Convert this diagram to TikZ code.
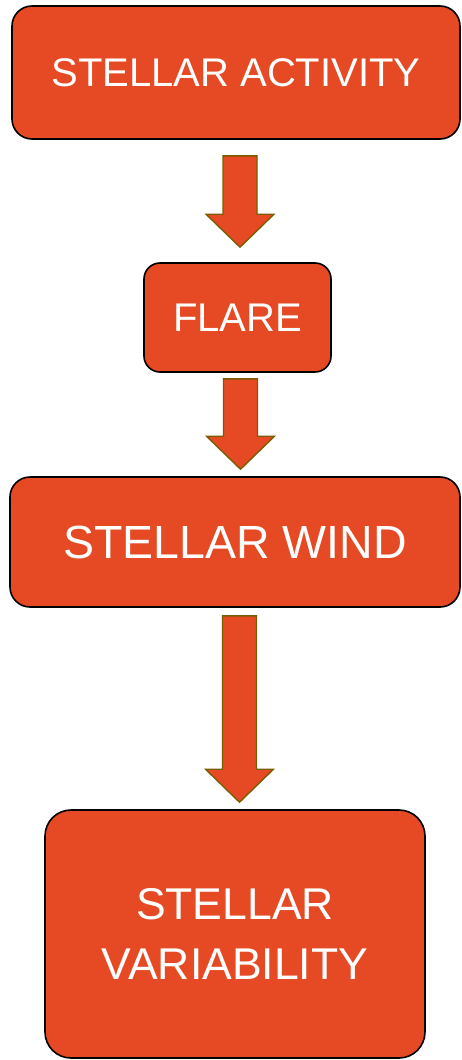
\documentclass[tikz,border=0pt]{standalone}
\usepackage{fontspec}
\setmainfont{Liberation Sans}
\usetikzlibrary{calc}
\definecolor{flame}{HTML}{E64A25}
\definecolor{olive}{HTML}{7A5C00}

\begin{document}
\begin{tikzpicture}[
  x=1pt,y=1pt,
  every node/.style={align=center,text=white},
  stage/.style={draw=black,line width=1.6pt,fill=flame,rounded corners=20pt,inner sep=0pt,font=\fontsize{40}{48}\selectfont},
  fatarrow/.style={draw=olive,line width=1.4pt,fill=flame,line join=miter}
]
\useasboundingbox (0,0) rectangle (462,-1060);

\node[stage,minimum width=448pt,minimum height=133pt] (activity) at (236,-72.5) {STELLAR ACTIVITY};
\node[stage,minimum width=187pt,minimum height=109pt,rounded corners=16pt] (flare) at (237.5,-317.5) {FLARE};
\node[stage,minimum width=450pt,minimum height=130pt,font=\fontsize{46.5}{54}\selectfont] (wind) at (235,-542) {STELLAR WIND};
\node[stage,minimum width=380pt,minimum height=248pt,rounded corners=26pt,font=\fontsize{44.5}{60}\selectfont] (variab) at (235,-934) {STELLAR\\VARIABILITY};

% block arrows: top of shaft below one box, tip above the next
\foreach \a/\b/\dx/\ga/\gb in {activity/flare/4/16/15,flare/wind/3/6/7,wind/variab/4.5/8/7}{
  \coordinate (\a-top) at ($(\a.south)+(\dx,-\ga)$);
  \coordinate (\b-tip) at ($(\a-top |- \b.north)+(0,\gb)$);
  \draw[fatarrow] ($(\a-top)+(-17,0)$) -- ($(\b-tip)+(-17,33)$) -- ($(\b-tip)+(-34,33)$)
    -- (\b-tip) -- ($(\b-tip)+(34,33)$) -- ($(\b-tip)+(17,33)$) -- ($(\a-top)+(17,0)$) -- cycle;
}
\end{tikzpicture}
\end{document}
